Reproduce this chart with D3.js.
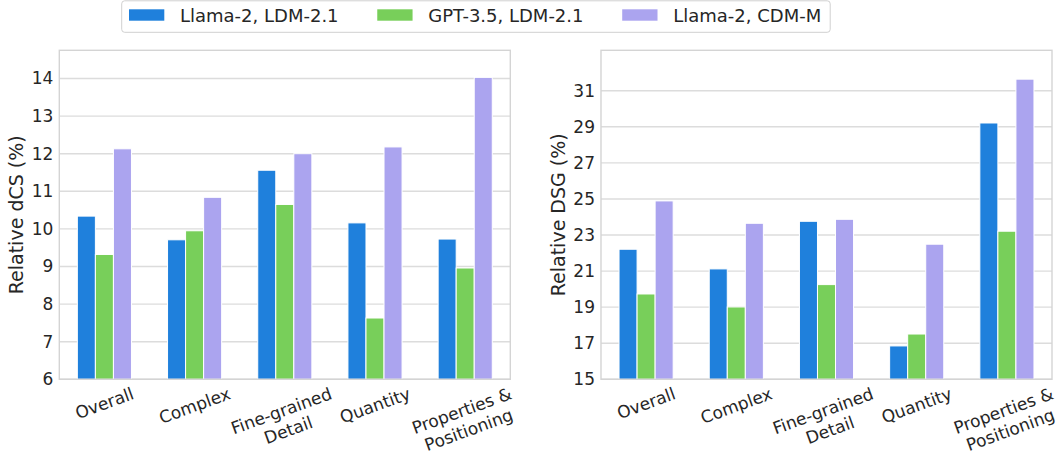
<!DOCTYPE html>
<html>
<head>
<meta charset="utf-8">
<script src="https://cdn.jsdelivr.net/npm/d3@7"></script>
<style>
  html, body { margin: 0; padding: 0; background: #fff; }
  svg { display: block; font-family: "DejaVu Sans", sans-serif; }
</style>
</head>
<body>
<svg id="chart" width="1060" height="455"></svg>
<script>
// ---------- data ----------
const categories = ["Overall", "Complex", "Fine-grained\nDetail", "Quantity", "Properties &\nPositioning"];
const seriesNames = ["Llama-2, LDM-2.1", "GPT-3.5, LDM-2.1", "Llama-2, CDM-M"];
const seriesColors = ["#1f80dc", "#78cf5a", "#aba4ef"];

const dcsLlamaLdm = [10.34, 9.71, 11.56, 10.16, 9.73];
const dcsGptLdm   = [9.32, 9.95, 10.65, 7.63, 8.96];
const dcsLlamaCdm = [12.13, 10.84, 12.00, 12.18, 14.03];

const dsgLlamaLdm = [22.21, 21.12, 23.76, 16.85, 29.21];
const dsgGptLdm   = [19.73, 19.01, 20.25, 17.51, 23.21];
const dsgLlamaCdm = [24.89, 23.65, 23.87, 22.49, 31.64];

const dcsTicks = [6, 7, 8, 9, 10, 11, 12, 13, 14];
const dsgTicks = [15, 17, 19, 21, 23, 25, 27, 29, 31];

const dcsDomain = [6, 14.75];
const dsgDomain = [15, 33.24];

// ---------- drawing ----------
const svg = d3.select("#chart");
const textColor = "#262626";
const gridColor = "#dcdcdc";
const tickFont = 17;

function drawPanel(cfg) {
  const { x0, x1, y0, y1, series, domain, ticks, label } = cfg;
  const g = svg.append("g");
  const x = d3.scaleBand().domain(categories).range([x0, x1]).padding(0);
  const y = d3.scaleLinear().domain(domain).range([y1, y0]);
  const step = x.step();
  const inner = d3.scaleBand().domain(seriesNames.map((d, i) => i))
    .range([-0.3 * step, 0.3 * step]).padding(0);

  // grid
  g.append("g").selectAll("line").data(ticks).join("line")
    .attr("x1", x0).attr("x2", x1)
    .attr("y1", d => y(d)).attr("y2", d => y(d))
    .attr("stroke", gridColor).attr("stroke-width", 1.4);

  // bars
  series.forEach((vals, si) => {
    g.append("g").selectAll("rect").data(vals).join("rect")
      .attr("x", (d, i) => x(categories[i]) + step / 2 + inner(si))
      .attr("width", inner.bandwidth())
      .attr("y", d => y(d))
      .attr("height", d => y(domain[0]) - y(d))
      .attr("fill", seriesColors[si])
      .attr("stroke", "#ffffff")
      .attr("stroke-width", 1);
  });

  // frame
  g.append("rect").attr("x", x0).attr("y", y0)
    .attr("width", x1 - x0).attr("height", y1 - y0)
    .attr("fill", "none").attr("stroke", "#d4d4d4").attr("stroke-width", 1.4);

  // y axis
  const yAxis = d3.axisLeft(y).tickValues(ticks).tickSize(0).tickPadding(6).tickFormat(d3.format("d"));
  const ya = g.append("g").attr("transform", `translate(${x0},0)`).call(yAxis);
  ya.select(".domain").remove();
  ya.selectAll("text").attr("font-size", tickFont).attr("fill", textColor)
    .attr("font-family", "DejaVu Sans");

  // x axis labels (rotated 20deg, centred)
  const xa = g.append("g");
  categories.forEach(cat => {
    const lines = cat.split("\n");
    const lh = tickFont * 1.2;
    const outer = xa.append("g");
    const rot = outer.append("g");
    const t = rot.append("text")
      .attr("text-anchor", "middle")
      .attr("font-size", tickFont)
      .attr("fill", textColor);
    lines.forEach((ln, li) => {
      t.append("tspan").attr("x", 0)
        .attr("y", (li - (lines.length - 1) / 2) * lh + tickFont * 0.36)
        .text(ln);
    });
    const bb = t.node().getBBox();
    const a = 20 * Math.PI / 180;
    const H = bb.width * Math.sin(a) + bb.height * Math.cos(a);
    const cx = x(cat) + step / 2;
    const top = y1 + 4;
    rot.attr("transform", "rotate(-20)");
    outer.attr("transform", `translate(${cx},${top + H / 2})`);
  });

  // y label
  g.append("text")
    .attr("transform", `translate(${x0 - 36},${(y0 + y1) / 2}) rotate(-90)`)
    .attr("text-anchor", "middle")
    .attr("font-size", 19)
    .attr("fill", textColor)
    .text(label);
}

drawPanel({
  x0: 59.3, x1: 510.3, y0: 50.3, y1: 379.3,
  series: [dcsLlamaLdm, dcsGptLdm, dcsLlamaCdm],
  domain: dcsDomain, ticks: dcsTicks, label: "Relative dCS (%)"
});
drawPanel({
  x0: 601, x1: 1052, y0: 50.3, y1: 379.3,
  series: [dsgLlamaLdm, dsgGptLdm, dsgLlamaCdm],
  domain: dsgDomain, ticks: dsgTicks, label: "Relative DSG (%)"
});

// ---------- legend ----------
const leg = svg.append("g");
const legBox = leg.append("rect")
  .attr("x", 121.7).attr("y", 0.8).attr("height", 31.5)
  .attr("rx", 3).attr("ry", 3)
  .attr("fill", "#fff").attr("stroke", "#d0d0d0").attr("stroke-width", 1);
let lx = 129;
seriesNames.forEach((name, i) => {
  leg.append("rect").attr("x", lx).attr("y", 9.3)
    .attr("width", 35.3).attr("height", 11.4)
    .attr("fill", seriesColors[i]);
  const t = leg.append("text").attr("x", lx + 51).attr("y", 22.3)
    .attr("font-size", 18).attr("fill", textColor).text(name);
  const w = t.node().getComputedTextLength();
  lx = lx + 51 + w + 38.7;
  if (i === seriesNames.length - 1) {
    legBox.attr("width", (lx - 38.7 + 9) - 121.7);
  }
});
</script>
</body>
</html>
